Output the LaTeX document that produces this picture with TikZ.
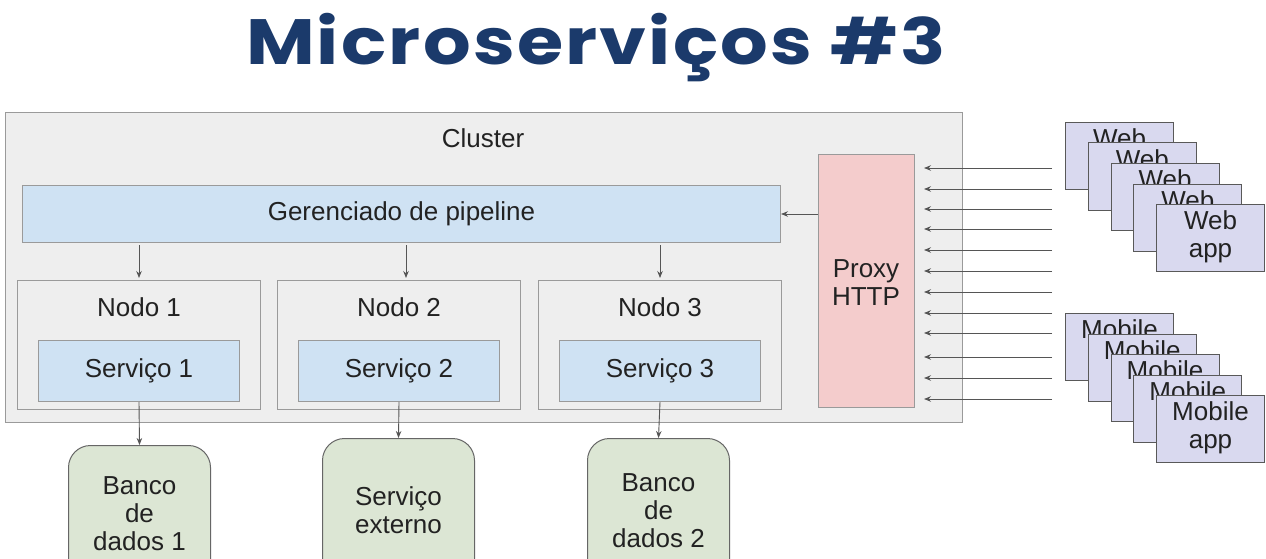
\documentclass[tikz,border=0pt]{standalone}
\usepackage{fontspec}
\setmainfont{Liberation Sans}
\newfontfamily\titlefont{Poppins}[UprightFont=* Bold, LetterSpace=3]
\usetikzlibrary{arrows.meta,calc}
\definecolor{titleblue}{HTML}{1B3A6B}
\definecolor{clusterfill}{HTML}{EEEEEE}
\definecolor{boxline}{HTML}{9A9A9A}
\definecolor{lightblue}{HTML}{CFE2F3}
\definecolor{lightred}{HTML}{F4CCCC}
\definecolor{lightgreen}{HTML}{DCE6D4}
\definecolor{lavender}{HTML}{D9D9EF}
\definecolor{textgray}{HTML}{222222}
\definecolor{arrowgray}{HTML}{555555}
\tikzset{
  box/.style={draw=boxline, line width=1pt, anchor=north west, inner sep=0pt},
  areabox/.style={box, fill=clusterfill},
  bluebox/.style={box, fill=lightblue},
  proxybox/.style={box, fill=lightred},
  storebox/.style={box, draw=gray!80!black, fill=lightgreen, rounded corners=22pt},
  clientbox/.style={box, draw=gray!70!black, fill=lavender, minimum width=108pt, minimum height=67pt},
  lbl/.style={text=textgray, font=\fontsize{26}{28}\selectfont, align=center, inner sep=0pt},
  arr/.style={draw=arrowgray, line width=0.9pt, -{Stealth[length=7pt,width=5.5pt]}},
}
\begin{document}
\begin{tikzpicture}[x=1pt,y=-1pt]
  \clip (0,0) rectangle (1266,559);
  \fill[white] (0,0) rectangle (1266,559);

  % title
  \node[text=titleblue, font=\titlefont\fontsize{64}{70}\selectfont, inner sep=0pt, anchor=base]
    (title) at (596,65) {\scalebox{1.17}[1]{Microserviços \#3}};

  % cluster with its inner parts
  \node[areabox, minimum width=957pt, minimum height=310pt] (cluster) at (5,112) {};
  \node[lbl] (clusterlbl) at (483,138) {Cluster};
  \node[bluebox, minimum width=758pt, minimum height=57pt] (pipe) at (22,185) {};
  \node[lbl] (pipelbl) at (pipe.center) {Gerenciado de pipeline};
  \node[proxybox, minimum width=96pt, minimum height=253pt] (proxy) at (818,154) {};
  \node[lbl] (proxylbl) at (866,283) {Proxy\\HTTP};

  \foreach \i/\x in {1/17,2/277,3/538}{
    \node[areabox, minimum width=243pt, minimum height=129pt] (n\i) at (\x,280) {};
    \node[lbl] (n\i lbl) at ($(n\i.north)+(0,27)$) {Nodo \i};
    \node[bluebox, minimum width=201pt, minimum height=61pt] (s\i) at (\x+21,340) {};
    \node[lbl] (s\i lbl) at (s\i.center) {Serviço \i};
  }

  % external stores
  \node[storebox, minimum width=142pt, minimum height=136pt] (db1) at (68,445) {};
  \node[lbl] (db1lbl) at (db1.center) {Banco\\de\\dados 1};
  \node[storebox, minimum width=152pt, minimum height=144pt] (ext) at (322,438) {};
  \node[lbl] (extlbl) at (ext.center) {Serviço\\externo};
  \node[storebox, minimum width=142pt, minimum height=144pt] (db2) at (587,438) {};
  \node[lbl] (db2lbl) at (db2.center) {Banco\\de\\dados 2};

  % connectors inside the cluster
  \draw[arr] (proxy.west |- pipe.east) -- (pipe.east);
  \draw[arr, shorten <=2pt, shorten >=2pt] (pipe.south -| n1.north) -- (n1.north);
  \draw[arr, shorten <=2pt, shorten >=2pt] ([xshift=7pt]pipe.south -| n2.north) -- ([xshift=7pt]n2.north);
  \draw[arr, shorten <=2pt, shorten >=2pt] (pipe.south -| n3.north) -- (n3.north);
  \draw[arr] (s1.south) -- (db1.north);
  \draw[arr] (s2.south) -- (ext.north);
  \draw[arr] (s3.south) -- (db2.north);

  % incoming client requests
  \foreach \y [count=\k] in {168,189,209,229,250,271,292,313,333,357,378,399}{
    \coordinate (req\k) at (1052,\y);
    \coordinate (reqend\k) at (proxy.east |- req\k);
    \draw[arr, shorten >=9pt] (req\k) -- (reqend\k);
  }

  % stacked clients
  \foreach \i in {0,...,4}{
    \node[clientbox] (web\i) at (1065+22.75*\i,122+20.5*\i) {};
    \node[lbl] (web\i lbl) at ([yshift=1pt]web\i.center) {Web\\app};
  }
  \foreach \i in {0,...,4}{
    \node[clientbox] (mob\i) at (1065+22.75*\i,313+20.5*\i) {};
    \node[lbl] (mob\i lbl) at ([yshift=1pt]mob\i.center) {Mobile\\app};
  }
\end{tikzpicture}
\end{document}
